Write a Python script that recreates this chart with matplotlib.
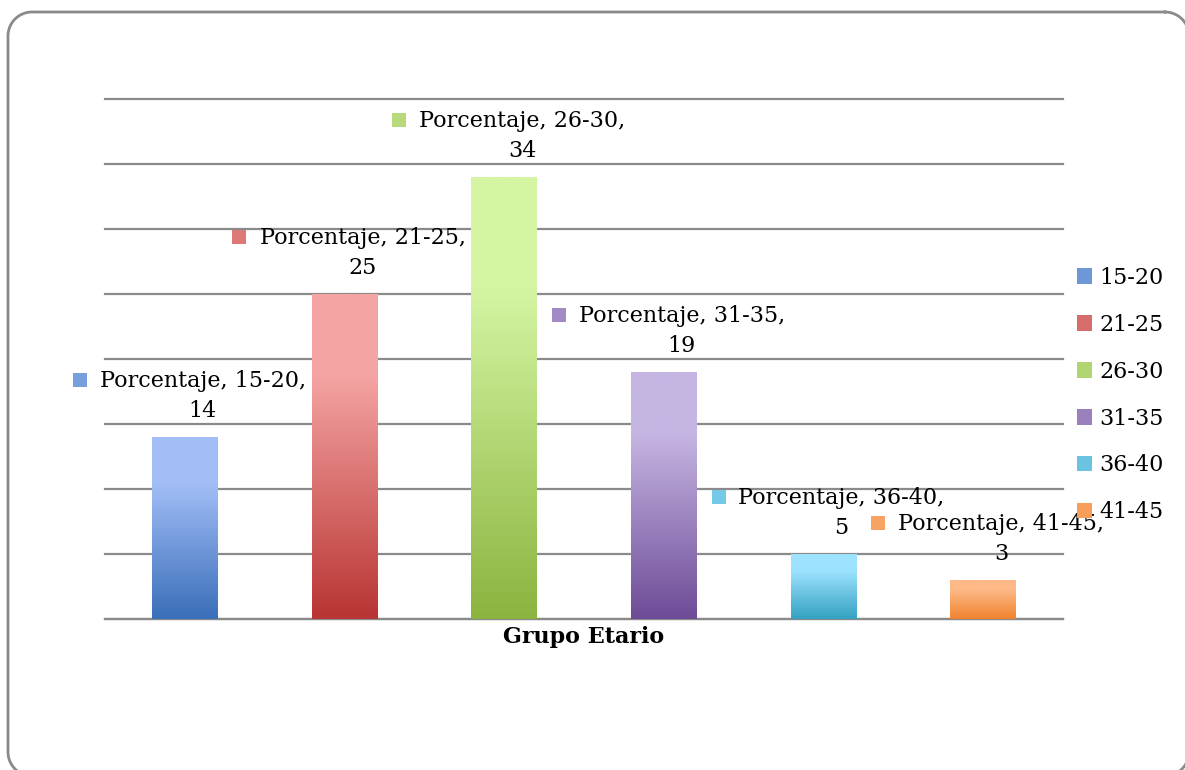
import matplotlib.pyplot as plt
import numpy as np
from matplotlib.colors import LinearSegmentedColormap, to_rgb
from matplotlib.patches import Rectangle
from matplotlib.transforms import offset_copy

grupos = ["15-20", "21-25", "26-30", "31-35", "36-40", "41-45"]
porcentaje = [14, 25, 34, 19, 5, 3]
color_top = ["#A3BEF7", "#F4A4A3", "#D5F5A3", "#C5B5E2", "#9DE3FF", "#FDB987"]
color_bot = ["#3A6FB9", "#B83533", "#8BB43F", "#6E4C97", "#35A2C3", "#F0832E"]

plt.rcParams["font.family"] = ["DejaVu Serif"]
fs = 16


def mezcla(a, b, t):
    a, b = np.array(to_rgb(a)), np.array(to_rgb(b))
    return tuple(a * (1 - t) + b * t)


fig = plt.figure(figsize=(11.85, 7.7), dpi=100)

# marco redondeado, dibujado en un eje de fondo en pixeles
fondo = fig.add_axes([0, 0, 1, 1], zorder=-1)
fondo.set_xlim(0, 1185)
fondo.set_ylim(770, 0)
fondo.axis("off")
L, T, R, B, rad = 8, 12, 1189, 776, 24
px, py = [], []
for cx, cy, a0 in [(R - rad, T + rad, -90), (R - rad, B - rad, 0), (L + rad, B - rad, 90), (L + rad, T + rad, 180)]:
    a = np.radians(np.linspace(a0, a0 + 90, 20))
    px.extend(cx + rad * np.cos(a))
    py.extend(cy + rad * np.sin(a))
px.append(px[0])
py.append(py[0])
fondo.plot(px, py, color="#8a8a8a", linewidth=2, clip_on=True)

ax = fig.add_axes([105 / 1185, 1 - 619 / 770, 958 / 1185, 520 / 770])

x = np.arange(len(grupos))
w = 0.41
for i, v in enumerate(porcentaje):
    cmap = LinearSegmentedColormap.from_list("g", [(0, color_top[i]), (0.25, color_top[i]), (1, color_bot[i])])
    grad = np.linspace(0, 1, 200).reshape(-1, 1)
    im = ax.imshow(grad, cmap=cmap, extent=[x[i] - w / 2, x[i] + w / 2, 0, v], origin="upper",
                   aspect="auto", zorder=3, interpolation="bilinear")
    r = Rectangle((x[i] - w / 2, 0), w, v, facecolor="none", edgecolor="none")
    ax.add_patch(r)
    im.set_clip_path(r)

    # etiquetas de datos
    ax.annotate("Porcentaje, %s," % grupos[i], xy=(x[i], v), xytext=(18, 56),
                textcoords="offset pixels", ha="center", va="center", fontsize=fs, zorder=5)
    ax.annotate("%d" % v, xy=(x[i], v), xytext=(18, 26),
                textcoords="offset pixels", ha="center", va="center", fontsize=fs, zorder=5)
    tr = offset_copy(ax.transData, fig=fig, x=-105, y=57, units="dots")
    ax.plot([x[i]], [v], marker="s", markersize=10, color=mezcla(color_top[i], color_bot[i], 0.4),
            markeredgewidth=0, transform=tr, clip_on=False, zorder=5)

ax.set_xlim(-0.5, 5.5)
ax.set_ylim(0, 40)
ax.set_yticks(np.arange(0, 41, 5))
ax.yaxis.grid(True, color="#8a8a8a", linewidth=1.6)
for gl in ax.get_ygridlines():
    gl.set_clip_on(False)
ax.set_axisbelow(True)
ax.patch.set_alpha(0)
ax.tick_params(left=False, bottom=False, labelleft=False, labelbottom=False)
for s in ["top", "right", "left"]:
    ax.spines[s].set_visible(False)
ax.spines["bottom"].set_color("#8a8a8a")
ax.spines["bottom"].set_linewidth(1.6)
ax.set_xlabel("Grupo Etario", fontsize=fs, fontweight="bold", labelpad=5)

# leyenda
handles = [Rectangle((0, 0), 1, 1, facecolor=mezcla(color_top[i], color_bot[i], 0.5)) for i in range(len(grupos))]
fig.legend(handles, grupos, loc="upper left", bbox_to_anchor=(1068 / 1185, 1 - 258 / 770),
           frameon=False, fontsize=fs, handlelength=0.7, handleheight=0.7,
           handletextpad=0.3, labelspacing=1.12, borderaxespad=0)

fig.savefig("out.png", dpi=100)
